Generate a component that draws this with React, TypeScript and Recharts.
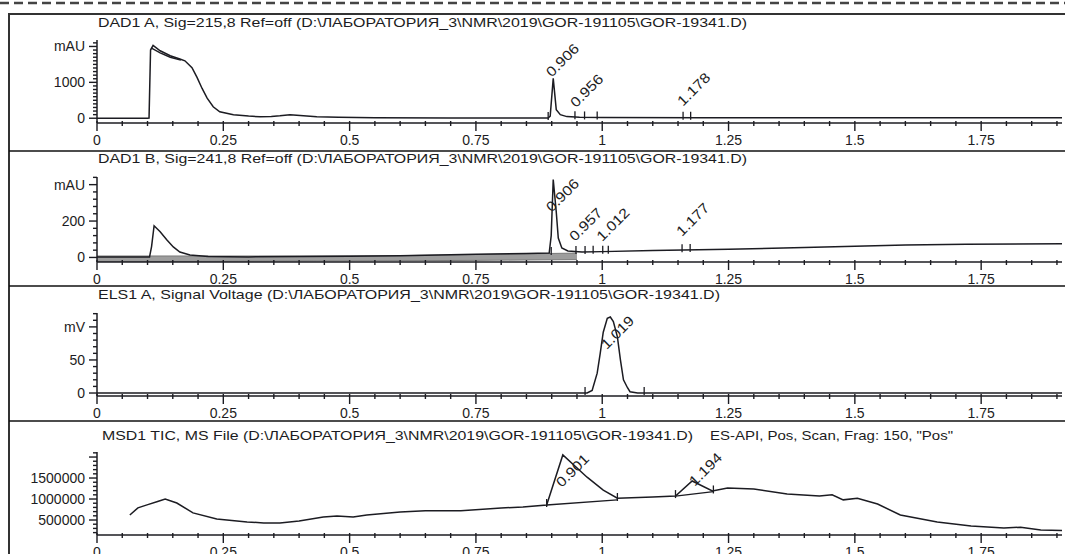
import React from 'react';
import { Area, ComposedChart, Line, Scatter, XAxis, YAxis } from 'recharts';

const W = 1065;
const H = 554;
const FONT = '"Liberation Sans", Arial, sans-serif';
const INK = '#1c1c22';

// retention time axis, min
const timeDomain: [number, number] = [0, 1.91];
const timeMajorTicks = [0, 0.25, 0.5, 0.75, 1, 1.25, 1.5, 1.75];

// DAD1 A, Sig=215,8  [time, mAU]
const dadA: [number, number][] = [
  [0, 0], [0.1, 0], [0.103, 5], [0.106, 1900], [0.111, 2030], [0.125, 1880], [0.145, 1740],
  [0.164, 1650], [0.174, 1600], [0.188, 1410], [0.198, 1140], [0.208, 830], [0.218, 560],
  [0.23, 320], [0.243, 180], [0.27, 100], [0.3, 60], [0.323, 40], [0.345, 50], [0.362, 70],
  [0.382, 100], [0.402, 75], [0.435, 40], [0.478, 30], [0.55, 15], [0.7, 8], [0.85, 6],
  [0.893, 6], [0.897, 60], [0.903, 1110], [0.909, 240], [0.917, 100], [0.93, 45], [0.955, 30],
  [1.0, 20], [1.2, 14], [1.5, 12], [1.91, 12],
];
// lower edge of the noisy plateau on the first peak
const dadANoise: [number, number][] = [[0.107, 1960], [0.125, 1820], [0.145, 1700], [0.166, 1620]];
const dadALabels = [
  { t: 0.9, v: 1130, text: '0.906' },
  { t: 0.948, v: 280, text: '0.956' },
  { t: 1.16, v: 320, text: '1.178' },
];
const dadAMarks: [number, number][] = [[0.893, 6], [0.946, 25], [0.965, 22], [0.99, 20], [1.16, 14], [1.175, 14]];

// DAD1 B, Sig=241,8  [time, mAU]
const dadB: [number, number][] = [
  [0, 3], [0.104, 3], [0.108, 60], [0.113, 174], [0.125, 141], [0.138, 97], [0.151, 58],
  [0.164, 30], [0.184, 14], [0.22, 5], [0.3, 3], [0.5, 6], [0.6, 10], [0.75, 17], [0.85, 22],
  [0.895, 24], [0.899, 120], [0.903, 428], [0.909, 250], [0.913, 107], [0.92, 52], [0.932, 36],
  [0.96, 30], [1.0, 32], [1.1, 38], [1.25, 45], [1.4, 55], [1.52, 63], [1.6, 68], [1.72, 73],
  [1.91, 75],
];
// grey noise band under the DAD1 B baseline  [time, low, high]
const dadBBand: [number, number, number][] = [
  [0, -22, 8], [0.2, -22, 8], [0.4, -20, 8], [0.6, -18, 10], [0.75, -16, 16], [0.85, -14, 20], [0.95, -12, 24],
];
const dadBLabels = [
  { t: 0.9, v: 245, text: '0.906' },
  { t: 0.946, v: 85, text: '0.957' },
  { t: 1.0, v: 85, text: '1.012' },
  { t: 1.158, v: 113, text: '1.177' },
];
const dadBMarks: [number, number][] = [
  [0.899, 24], [0.948, 30], [0.966, 30], [0.982, 31], [1.001, 32], [1.012, 32], [1.158, 40], [1.174, 41],
];

// ELS1 A, Signal Voltage  [time, mV]
const els: [number, number][] = [
  [0, 0], [0.97, 0], [0.98, 4], [0.99, 30], [0.996, 60], [1.002, 92], [1.01, 113], [1.016, 115],
  [1.022, 108], [1.03, 85], [1.036, 50], [1.042, 20], [1.05, 8], [1.055, 2], [1.07, 0], [1.91, 0],
];
const elsLabels = [{ t: 1.009, v: 65, text: '1.019' }];
const elsMarks: [number, number][] = [[0.966, 0], [1.083, 0]];

// MSD1 TIC  [time, counts]
const tic: [number, number][] = [
  [0.065, 620000], [0.081, 790000], [0.099, 860000], [0.12, 940000], [0.135, 1000000],
  [0.158, 905000], [0.19, 670000], [0.237, 525000], [0.297, 455000], [0.33, 430000],
  [0.362, 430000], [0.4, 475000], [0.448, 570000], [0.475, 595000], [0.507, 570000],
  [0.534, 620000], [0.6, 690000], [0.65, 720000], [0.72, 720000], [0.8, 786000], [0.843, 810000],
  [0.89, 857000], [0.922, 2050000], [0.97, 1520000], [1.002, 1210000], [1.03, 1020000],
  [1.1, 1050000], [1.145, 1070000], [1.178, 1430000], [1.218, 1190000], [1.248, 1260000],
  [1.3, 1240000], [1.366, 1120000], [1.43, 1070000], [1.455, 1100000], [1.477, 980000],
  [1.505, 1020000], [1.545, 880000], [1.59, 620000], [1.663, 450000], [1.73, 360000],
  [1.795, 310000], [1.828, 330000], [1.868, 260000], [1.91, 250000],
];
const ticLabels = [
  { t: 0.92, v: 1260000, text: '0.901' },
  { t: 1.183, v: 1290000, text: '1.194' },
];
const ticMarks: [number, number][] = [[0.89, 857000], [1.03, 1000000], [1.145, 1070000], [1.22, 1180000]];
const ticBaseA: [number, number][] = [[0.89, 857000], [1.03, 980000]];
const ticBaseB: [number, number][] = [[1.145, 1070000], [1.22, 1175000]];

const titlePath = 'D:\\ЛАБОРАТОРИЯ_3\\NMR\\2019\\GOR-191105\\GOR-19341.D';

const steps = (from: number, to: number, step: number) => {
  const out: number[] = [];
  for (let i = 0; from + i * step <= to + 1e-9; i++) out.push(Math.round((from + i * step) * 1000) / 1000);
  return out;
};
const pts = (rows: [number, number][]) => rows.map(([t, v]) => ({ t, v }));
const same = (a: number, b: number) => Math.abs(a - b) < 1e-6 * Math.max(1, Math.abs(a));

const TimeTick = (props: any) => {
  const { x, y, payload } = props;
  const major = timeMajorTicks.some((m) => same(m, payload.value));
  return (
    <g>
      <line x1={x} x2={x} y1={y - 2} y2={y + (major ? 8 : 3)} stroke={INK} strokeWidth={1.4} />
      {major && (
        <text x={x} y={y + 22} textAnchor="middle" fontSize={14} fontFamily={FONT} fill={INK}>
          {String(payload.value)}
        </text>
      )}
    </g>
  );
};

const ValueTick = (props: any) => {
  const { x, y, payload, majors, names } = props;
  const major = majors.some((m: number) => same(m, payload.value));
  const name = names[payload.value] ?? (major ? String(payload.value) : '');
  return (
    <g>
      <line x1={x - (major ? 8 : 4)} x2={x} y1={y} y2={y} stroke={INK} strokeWidth={1.4} />
      {major && name && (
        <text x={x - 12} y={y} dy="0.35em" textAnchor="end" fontSize={14} fontFamily={FONT} fill={INK}>
          {name}
        </text>
      )}
    </g>
  );
};

const PeakText = (props: any) => {
  const { cx, cy, payload } = props;
  return (
    <text
      x={cx}
      y={cy}
      transform={`rotate(-45 ${cx} ${cy})`}
      fontSize={14}
      textLength={40}
      lengthAdjust="spacingAndGlyphs"
      fontFamily={FONT}
      fill={INK}
    >
      {payload.text}
    </text>
  );
};

const MarkTick = (props: any) => {
  const { cx, cy } = props;
  return <line x1={cx} x2={cx} y1={cy + 2} y2={cy - 6} stroke={INK} strokeWidth={1.3} />;
};

const panels = [
  {
    top: 14, height: 137, marginTop: 26, xAxisHeight: 28,
    domain: [-133, 2180], minor: steps(0, 2100, 100), majors: [0, 1000, 2000], names: { 2000: 'mAU' },
    trace: dadA, extra: [dadANoise], band: [] as [number, number, number][],
    labels: dadALabels, marks: dadAMarks,
  },
  {
    top: 151, height: 135, marginTop: 26, xAxisHeight: 24,
    domain: [-25, 442], minor: steps(0, 440, 40), majors: [0, 200, 400], names: { 400: 'mAU' },
    trace: dadB, extra: [] as [number, number][][], band: dadBBand,
    labels: dadBLabels, marks: dadBMarks,
  },
  {
    top: 286, height: 135, marginTop: 27, xAxisHeight: 25,
    domain: [-4.5, 121], minor: steps(0, 120, 10), majors: [0, 50, 100], names: { 100: 'mV' },
    trace: els, extra: [] as [number, number][][], band: [] as [number, number, number][],
    labels: elsLabels, marks: elsMarks,
  },
  {
    top: 421, height: 133, marginTop: 31, xAxisHeight: 19,
    domain: [143000, 2120000], minor: steps(200000, 2100000, 100000),
    majors: [500000, 1000000, 1500000, 2000000], names: { 2000000: '' },
    trace: tic, extra: [ticBaseA, ticBaseB], band: [] as [number, number, number][],
    labels: ticLabels, marks: ticMarks,
  },
];

const titles = [
  { x: 98, y: 27, len: 649, text: `DAD1 A, Sig=215,8 Ref=off (${titlePath})` },
  { x: 98, y: 163, len: 649, text: `DAD1 B, Sig=241,8 Ref=off (${titlePath})` },
  { x: 98, y: 299, len: 622, text: `ELS1 A, Signal Voltage (${titlePath})` },
  { x: 102, y: 440, len: 591, text: `MSD1 TIC, MS File (${titlePath})` },
  { x: 710, y: 440, len: 243, text: 'ES-API, Pos, Scan, Frag: 150, "Pos"' },
];

const timeTicks = steps(0, 1.9, 0.05);

const Panel = ({ p }: { p: (typeof panels)[number] }) => (
  <div style={{ position: 'absolute', left: 0, top: p.top, width: W, height: p.height }}>
    <ComposedChart width={W} height={p.height} margin={{ top: p.marginTop, right: 3, bottom: 0, left: 7 }}>
      <XAxis
        type="number"
        dataKey="t"
        domain={timeDomain}
        allowDataOverflow
        ticks={timeTicks}
        interval={0}
        tickSize={0}
        tickMargin={0}
        height={p.xAxisHeight}
        axisLine={{ stroke: INK, strokeWidth: 1.5 }}
        tickLine={false}
        tick={(tp: any) => <TimeTick {...tp} />}
      />
      <YAxis
        type="number"
        dataKey="v"
        domain={p.domain}
        allowDataOverflow
        ticks={p.minor}
        interval={0}
        tickSize={0}
        tickMargin={0}
        width={90}
        axisLine={{ stroke: INK, strokeWidth: 1.5 }}
        tickLine={false}
        tick={(tp: any) => <ValueTick {...tp} majors={p.majors} names={p.names} />}
      />
      {p.band.length > 0 && (
        <Area
          data={p.band.map(([t, lo, hi]) => ({ t, range: [lo, hi] }))}
          dataKey="range"
          type="linear"
          stroke="#7a7a7a"
          strokeWidth={1}
          fill="#8c8c8c"
          fillOpacity={0.85}
          dot={false}
          activeDot={false}
          isAnimationActive={false}
        />
      )}
      <Line
        data={pts(p.trace)}
        dataKey="v"
        type="linear"
        stroke={INK}
        strokeWidth={1.5}
        dot={false}
        activeDot={false}
        isAnimationActive={false}
      />
      {p.extra.map((b, i) => (
        <Line
          key={i}
          data={pts(b)}
          dataKey="v"
          type="linear"
          stroke={INK}
          strokeWidth={1.4}
          dot={false}
          activeDot={false}
          isAnimationActive={false}
        />
      ))}
      <Scatter data={pts(p.marks)} shape={(sp: any) => <MarkTick {...sp} />} isAnimationActive={false} />
      <Scatter data={p.labels} shape={(sp: any) => <PeakText {...sp} />} isAnimationActive={false} />
    </ComposedChart>
  </div>
);

export default function App() {
  return (
    <div style={{ position: 'absolute', left: 0, top: 0, width: W, height: H, overflow: 'hidden', background: '#fff' }}>
      {panels.map((p, i) => (
        <Panel key={i} p={p} />
      ))}
      <svg width={W} height={H} style={{ position: 'absolute', left: 0, top: 0, pointerEvents: 'none' }}>
        <line x1={0} x2={W} y1={3} y2={3} stroke="#444" strokeWidth={2.5} strokeDasharray="9 5" />
        <line x1={9} x2={W} y1={14} y2={14} stroke="#333" strokeWidth={2} />
        <line x1={9} x2={9} y1={13} y2={H} stroke="#333" strokeWidth={2} />
        {[151, 286, 421].map((y) => (
          <line key={y} x1={9} x2={W} y1={y} y2={y} stroke="#111" strokeWidth={1.5} />
        ))}
        {titles.map((t, i) => (
          <text
            key={i}
            x={t.x}
            y={t.y}
            textLength={t.len}
            lengthAdjust="spacingAndGlyphs"
            fontSize={13.5}
            fontFamily={FONT}
            fill={INK}
          >
            {t.text}
          </text>
        ))}
      </svg>
    </div>
  );
}
